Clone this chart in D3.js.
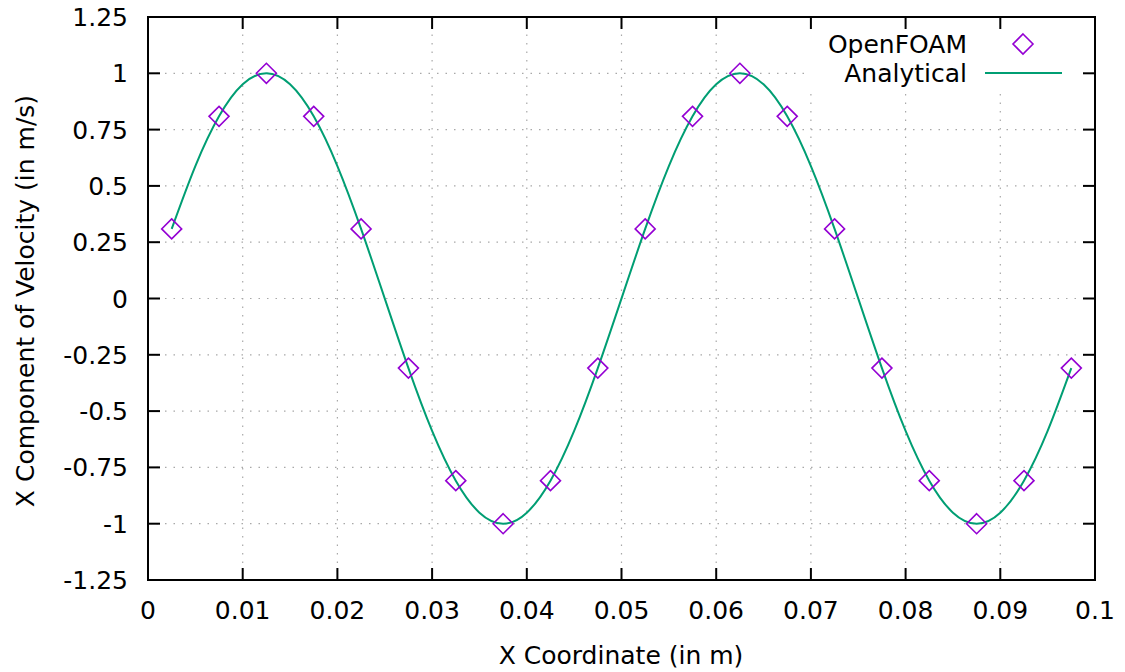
<!DOCTYPE html>
<html>
<head>
<meta charset="utf-8">
<script src="https://cdn.jsdelivr.net/npm/d3@7"></script>
<style>
  html, body { margin: 0; padding: 0; background: #fff; }
  svg { display: block; font-family: "DejaVu Sans", sans-serif; }
</style>
</head>
<body>
<svg id="chart" width="1125" height="672"></svg>
<script>
// ---- Data ----
const openfoamX = [0.0025, 0.0075, 0.0125, 0.0175, 0.0225, 0.0275, 0.0325, 0.0375, 0.0425, 0.0475,
                   0.0525, 0.0575, 0.0625, 0.0675, 0.0725, 0.0775, 0.0825, 0.0875, 0.0925, 0.0975];
const openfoamU = [0.309, 0.809, 1.0, 0.809, 0.309, -0.309, -0.809, -1.0, -0.809, -0.309,
                   0.309, 0.809, 1.0, 0.809, 0.309, -0.309, -0.809, -1.0, -0.809, -0.309];

const analyticalX = [0.0025, 0.005, 0.0075, 0.01, 0.0125, 0.015, 0.0175, 0.02, 0.0225, 0.025,
                     0.0275, 0.03, 0.0325, 0.035, 0.0375, 0.04, 0.0425, 0.045, 0.0475, 0.05,
                     0.0525, 0.055, 0.0575, 0.06, 0.0625, 0.065, 0.0675, 0.07, 0.0725, 0.075,
                     0.0775, 0.08, 0.0825, 0.085, 0.0875, 0.09, 0.0925, 0.095, 0.0975];
const analyticalU = [0.309, 0.588, 0.809, 0.951, 1.0, 0.951, 0.809, 0.588, 0.309, 0.0,
                     -0.309, -0.588, -0.809, -0.951, -1.0, -0.951, -0.809, -0.588, -0.309, 0.0,
                     0.309, 0.588, 0.809, 0.951, 1.0, 0.951, 0.809, 0.588, 0.309, 0.0,
                     -0.309, -0.588, -0.809, -0.951, -1.0, -0.951, -0.809, -0.588, -0.309];

const xTicks = [0, 0.01, 0.02, 0.03, 0.04, 0.05, 0.06, 0.07, 0.08, 0.09, 0.1];
const xTickLabels = ["0", "0.01", "0.02", "0.03", "0.04", "0.05", "0.06", "0.07", "0.08", "0.09", "0.1"];
const yTicks = [-1.25, -1, -0.75, -0.5, -0.25, 0, 0.25, 0.5, 0.75, 1, 1.25];
const yTickLabels = ["-1.25", "-1", "-0.75", "-0.5", "-0.25", "0", "0.25", "0.5", "0.75", "1", "1.25"];

const seriesNames = ["OpenFOAM", "Analytical"];
const xLabel = "X Coordinate (in m)";
const yLabel = "X Component of Velocity (in m/s)";

// ---- Layout ----
const L = 148, R = 1095, T = 17, B = 580;
const purple = "#9400d3", green = "#009e73";
const fs = 25;

const svg = d3.select("#chart");
const x = d3.scaleLinear().domain([0, 0.1]).range([L, R]);
const y = d3.scaleLinear().domain([-1.25, 1.25]).range([B, T]);

// Grid
const grid = svg.append("g").attr("stroke", "#a8a8a8").attr("stroke-width", 1.2)
  .attr("stroke-dasharray", "1.5,7");
grid.selectAll("line.gx").data(xTicks.slice(1, -1)).join("line")
  .attr("x1", d => x(d)).attr("x2", d => x(d)).attr("y1", B).attr("y2", T);
grid.selectAll("line.gy").data(yTicks.slice(1, -1)).join("line")
  .attr("y1", d => y(d)).attr("y2", d => y(d)).attr("x1", L).attr("x2", R);

// Legend background (covers grid)
const legX0 = 805, legX1 = 1076, legY0 = T + 1, legY1 = 90;
svg.append("rect").attr("x", legX0).attr("y", legY0).attr("width", legX1 - legX0)
  .attr("height", legY1 - legY0).attr("fill", "#fff");

// Axes (ticks inward, mirrored)
const tickLen = 12;
const axisG = svg.append("g").attr("stroke", "#000").attr("stroke-width", 2);
xTicks.forEach(t => {
  axisG.append("line").attr("x1", x(t)).attr("x2", x(t)).attr("y1", B).attr("y2", B - tickLen);
  axisG.append("line").attr("x1", x(t)).attr("x2", x(t)).attr("y1", T).attr("y2", T + tickLen);
});
yTicks.forEach(t => {
  axisG.append("line").attr("x1", L).attr("x2", L + tickLen).attr("y1", y(t)).attr("y2", y(t));
  axisG.append("line").attr("x1", R).attr("x2", R - tickLen).attr("y1", y(t)).attr("y2", y(t));
});

// Curve
const line = d3.line().x(d => x(d[0])).y(d => y(d[1])).curve(d3.curveNatural);
svg.append("path")
  .datum(analyticalX.map((v, i) => [v, analyticalU[i]]))
  .attr("d", line).attr("fill", "none").attr("stroke", green).attr("stroke-width", 2);

// Diamonds
const ds = 10;
const diamond = (cx, cy) => `M${cx},${cy - ds}L${cx + ds},${cy}L${cx},${cy + ds}L${cx - ds},${cy}Z`;
svg.append("g").selectAll("path").data(openfoamX.map((v, i) => [v, openfoamU[i]])).join("path")
  .attr("d", d => diamond(x(d[0]), y(d[1])))
  .attr("fill", "none").attr("stroke", purple).attr("stroke-width", 1.6);

// Border
svg.append("rect").attr("x", L).attr("y", T).attr("width", R - L).attr("height", B - T)
  .attr("fill", "none").attr("stroke", "#000").attr("stroke-width", 2);

// Tick labels
svg.append("g").selectAll("text").data(xTicks).join("text")
  .attr("x", d => x(d)).attr("y", 619).attr("text-anchor", "middle")
  .attr("font-size", fs).text((d, i) => xTickLabels[i]);
svg.append("g").selectAll("text").data(yTicks).join("text")
  .attr("x", 128).attr("y", d => y(d) + 9).attr("text-anchor", "end")
  .attr("font-size", fs).text((d, i) => yTickLabels[i]);

// Axis titles
svg.append("text").attr("x", 621).attr("y", 664).attr("text-anchor", "middle")
  .attr("font-size", fs).text(xLabel);
svg.append("text").attr("transform", "translate(34,301) rotate(-90)")
  .attr("text-anchor", "middle").attr("font-size", fs).text(yLabel);

// Legend
svg.append("text").attr("x", 967).attr("y", 53).attr("text-anchor", "end")
  .attr("font-size", fs).text(seriesNames[0]);
svg.append("path").attr("d", diamond(1023, 44)).attr("fill", "none")
  .attr("stroke", purple).attr("stroke-width", 1.6);
svg.append("text").attr("x", 967).attr("y", 82).attr("text-anchor", "end")
  .attr("font-size", fs).text(seriesNames[1]);
svg.append("line").attr("x1", 985).attr("x2", 1062).attr("y1", 73).attr("y2", 73)
  .attr("stroke", green).attr("stroke-width", 2);
</script>
</body>
</html>
